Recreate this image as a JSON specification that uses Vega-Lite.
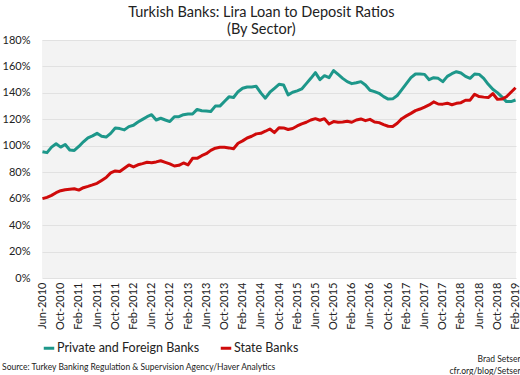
{
  "$schema": "https://vega.github.io/schema/vega-lite/v6.json",
  "background": "white",
  "padding": {"left": 2, "right": 5, "top": 4, "bottom": 2},
  "title": {
    "text": ["Turkish Banks: Lira Loan to Deposit Ratios", "(By Sector)"],
    "font": "Lato", "fontSize": 14.5, "fontWeight": "normal", "color": "#222222",
    "anchor": "middle", "lineHeight": 17, "offset": -3
  },
  "config": {
    "view": {"stroke": null, "fill": "#f3f3f3"},
    "font": "Lato",
    "axis": {"labelFont": "Lato", "labelColor": "#222222", "labelFontSize": 11, "domain": false, "ticks": false, "title": null}
  },
  "resolve": {"scale": {"color": "independent"}, "legend": {"color": "independent"}},
  "vconcat": [
    {
      "title": {
        "text": "Source: Turkey Banking Regulation & Supervision Agency/Haver Analytics",
        "orient": "bottom", "anchor": "start", "font": "Lato", "fontSize": 8.5, "fontWeight": "normal",
        "color": "#222222", "offset": -13
      },
      "resolve": {"scale": {"color": "independent"}, "legend": {"color": "independent"}},
      "vconcat": [
        {
          "title": {
            "text": ["Brad Setser", "cfr.org/blog/Setser"],
            "orient": "bottom", "anchor": "end", "font": "Lato", "fontSize": 8.5, "fontWeight": "normal",
            "color": "#222222", "lineHeight": 12, "offset": 0
          },
          "width": 474,
          "height": 238,
          "data": {"values": [
            {"m": "Jun-2010", "Private and Foreign Banks": 95.5, "State Banks": 60},
            {"m": "Jul-2010", "Private and Foreign Banks": 94.8, "State Banks": 61},
            {"m": "Aug-2010", "Private and Foreign Banks": 99, "State Banks": 62.5},
            {"m": "Sep-2010", "Private and Foreign Banks": 101.5, "State Banks": 64.5},
            {"m": "Oct-2010", "Private and Foreign Banks": 99, "State Banks": 66},
            {"m": "Nov-2010", "Private and Foreign Banks": 101, "State Banks": 66.8},
            {"m": "Dec-2010", "Private and Foreign Banks": 96.8, "State Banks": 67.2},
            {"m": "Jan-2011", "Private and Foreign Banks": 96.5, "State Banks": 67.5},
            {"m": "Feb-2011", "Private and Foreign Banks": 99.5, "State Banks": 66.5},
            {"m": "Mar-2011", "Private and Foreign Banks": 103, "State Banks": 68.3},
            {"m": "Apr-2011", "Private and Foreign Banks": 106, "State Banks": 69.3},
            {"m": "May-2011", "Private and Foreign Banks": 107.5, "State Banks": 70.4},
            {"m": "Jun-2011", "Private and Foreign Banks": 109.4, "State Banks": 71.6},
            {"m": "Jul-2011", "Private and Foreign Banks": 107.2, "State Banks": 73.8},
            {"m": "Aug-2011", "Private and Foreign Banks": 106.6, "State Banks": 76},
            {"m": "Sep-2011", "Private and Foreign Banks": 109.4, "State Banks": 79.5},
            {"m": "Oct-2011", "Private and Foreign Banks": 113.5, "State Banks": 81},
            {"m": "Nov-2011", "Private and Foreign Banks": 113, "State Banks": 80.5},
            {"m": "Dec-2011", "Private and Foreign Banks": 112, "State Banks": 83},
            {"m": "Jan-2012", "Private and Foreign Banks": 114.5, "State Banks": 85.5},
            {"m": "Feb-2012", "Private and Foreign Banks": 115.5, "State Banks": 84},
            {"m": "Mar-2012", "Private and Foreign Banks": 118, "State Banks": 85.6},
            {"m": "Apr-2012", "Private and Foreign Banks": 120, "State Banks": 86.5},
            {"m": "May-2012", "Private and Foreign Banks": 122, "State Banks": 87.5},
            {"m": "Jun-2012", "Private and Foreign Banks": 123.5, "State Banks": 87.2},
            {"m": "Jul-2012", "Private and Foreign Banks": 119.5, "State Banks": 87.8},
            {"m": "Aug-2012", "Private and Foreign Banks": 120.8, "State Banks": 88.7},
            {"m": "Sep-2012", "Private and Foreign Banks": 119.5, "State Banks": 87.5},
            {"m": "Oct-2012", "Private and Foreign Banks": 118.3, "State Banks": 86.3},
            {"m": "Nov-2012", "Private and Foreign Banks": 122, "State Banks": 84.7},
            {"m": "Dec-2012", "Private and Foreign Banks": 122, "State Banks": 85.2},
            {"m": "Jan-2013", "Private and Foreign Banks": 123.5, "State Banks": 87},
            {"m": "Feb-2013", "Private and Foreign Banks": 124, "State Banks": 85.5},
            {"m": "Mar-2013", "Private and Foreign Banks": 124, "State Banks": 90.5},
            {"m": "Apr-2013", "Private and Foreign Banks": 127.5, "State Banks": 90.5},
            {"m": "May-2013", "Private and Foreign Banks": 126.5, "State Banks": 92.5},
            {"m": "Jun-2013", "Private and Foreign Banks": 126.3, "State Banks": 94},
            {"m": "Jul-2013", "Private and Foreign Banks": 126, "State Banks": 96.5},
            {"m": "Aug-2013", "Private and Foreign Banks": 130, "State Banks": 98.2},
            {"m": "Sep-2013", "Private and Foreign Banks": 130, "State Banks": 98.9},
            {"m": "Oct-2013", "Private and Foreign Banks": 133.5, "State Banks": 98.9},
            {"m": "Nov-2013", "Private and Foreign Banks": 137, "State Banks": 98.4},
            {"m": "Dec-2013", "Private and Foreign Banks": 136.5, "State Banks": 97.8},
            {"m": "Jan-2014", "Private and Foreign Banks": 140.9, "State Banks": 101.9},
            {"m": "Feb-2014", "Private and Foreign Banks": 143.5, "State Banks": 103.7},
            {"m": "Mar-2014", "Private and Foreign Banks": 144.5, "State Banks": 105.9},
            {"m": "Apr-2014", "Private and Foreign Banks": 144.5, "State Banks": 107.2},
            {"m": "May-2014", "Private and Foreign Banks": 145, "State Banks": 109},
            {"m": "Jun-2014", "Private and Foreign Banks": 140, "State Banks": 109.4},
            {"m": "Jul-2014", "Private and Foreign Banks": 136, "State Banks": 111},
            {"m": "Aug-2014", "Private and Foreign Banks": 140.5, "State Banks": 112.7},
            {"m": "Sep-2014", "Private and Foreign Banks": 143.5, "State Banks": 110},
            {"m": "Oct-2014", "Private and Foreign Banks": 146.5, "State Banks": 113.7},
            {"m": "Nov-2014", "Private and Foreign Banks": 146, "State Banks": 113.5},
            {"m": "Dec-2014", "Private and Foreign Banks": 138.5, "State Banks": 112.3},
            {"m": "Jan-2015", "Private and Foreign Banks": 140.5, "State Banks": 113.1},
            {"m": "Feb-2015", "Private and Foreign Banks": 141.5, "State Banks": 115},
            {"m": "Mar-2015", "Private and Foreign Banks": 143, "State Banks": 116.6},
            {"m": "Apr-2015", "Private and Foreign Banks": 147, "State Banks": 117.8},
            {"m": "May-2015", "Private and Foreign Banks": 151, "State Banks": 119.5},
            {"m": "Jun-2015", "Private and Foreign Banks": 155.3, "State Banks": 120.5},
            {"m": "Jul-2015", "Private and Foreign Banks": 150, "State Banks": 119.3},
            {"m": "Aug-2015", "Private and Foreign Banks": 153, "State Banks": 120.5},
            {"m": "Sep-2015", "Private and Foreign Banks": 151.5, "State Banks": 116.5},
            {"m": "Oct-2015", "Private and Foreign Banks": 156.9, "State Banks": 118.3},
            {"m": "Nov-2015", "Private and Foreign Banks": 154, "State Banks": 117.8},
            {"m": "Dec-2015", "Private and Foreign Banks": 151, "State Banks": 118},
            {"m": "Jan-2016", "Private and Foreign Banks": 148.5, "State Banks": 118.5},
            {"m": "Feb-2016", "Private and Foreign Banks": 147, "State Banks": 117.8},
            {"m": "Mar-2016", "Private and Foreign Banks": 147.7, "State Banks": 119.5},
            {"m": "Apr-2016", "Private and Foreign Banks": 148.5, "State Banks": 120.3},
            {"m": "May-2016", "Private and Foreign Banks": 146, "State Banks": 119},
            {"m": "Jun-2016", "Private and Foreign Banks": 142, "State Banks": 120},
            {"m": "Jul-2016", "Private and Foreign Banks": 141, "State Banks": 118},
            {"m": "Aug-2016", "Private and Foreign Banks": 139.7, "State Banks": 117.5},
            {"m": "Sep-2016", "Private and Foreign Banks": 137.2, "State Banks": 116},
            {"m": "Oct-2016", "Private and Foreign Banks": 135.3, "State Banks": 114.8},
            {"m": "Nov-2016", "Private and Foreign Banks": 135.5, "State Banks": 114.6},
            {"m": "Dec-2016", "Private and Foreign Banks": 138, "State Banks": 117},
            {"m": "Jan-2017", "Private and Foreign Banks": 142.5, "State Banks": 120.5},
            {"m": "Feb-2017", "Private and Foreign Banks": 147, "State Banks": 122.6},
            {"m": "Mar-2017", "Private and Foreign Banks": 151.5, "State Banks": 124.5},
            {"m": "Apr-2017", "Private and Foreign Banks": 154.3, "State Banks": 126.6},
            {"m": "May-2017", "Private and Foreign Banks": 154.3, "State Banks": 127.8},
            {"m": "Jun-2017", "Private and Foreign Banks": 154, "State Banks": 129.3},
            {"m": "Jul-2017", "Private and Foreign Banks": 150, "State Banks": 130.9},
            {"m": "Aug-2017", "Private and Foreign Banks": 151.5, "State Banks": 133.2},
            {"m": "Sep-2017", "Private and Foreign Banks": 151, "State Banks": 131.6},
            {"m": "Oct-2017", "Private and Foreign Banks": 148.5, "State Banks": 131.5},
            {"m": "Nov-2017", "Private and Foreign Banks": 152.5, "State Banks": 132.2},
            {"m": "Dec-2017", "Private and Foreign Banks": 154.5, "State Banks": 131},
            {"m": "Jan-2018", "Private and Foreign Banks": 156, "State Banks": 132.1},
            {"m": "Feb-2018", "Private and Foreign Banks": 155, "State Banks": 132.6},
            {"m": "Mar-2018", "Private and Foreign Banks": 152.5, "State Banks": 134.4},
            {"m": "Apr-2018", "Private and Foreign Banks": 151, "State Banks": 134.5},
            {"m": "May-2018", "Private and Foreign Banks": 154.3, "State Banks": 139},
            {"m": "Jun-2018", "Private and Foreign Banks": 154, "State Banks": 137.2},
            {"m": "Jul-2018", "Private and Foreign Banks": 151, "State Banks": 136.8},
            {"m": "Aug-2018", "Private and Foreign Banks": 146.5, "State Banks": 136.5},
            {"m": "Sep-2018", "Private and Foreign Banks": 142.7, "State Banks": 139.5},
            {"m": "Oct-2018", "Private and Foreign Banks": 140.2, "State Banks": 135.2},
            {"m": "Nov-2018", "Private and Foreign Banks": 137, "State Banks": 135.3},
            {"m": "Dec-2018", "Private and Foreign Banks": 133.4, "State Banks": 137.1},
            {"m": "Jan-2019", "Private and Foreign Banks": 133.4, "State Banks": 140.5},
            {"m": "Feb-2019", "Private and Foreign Banks": 134.6, "State Banks": 143.9}
          ]},
          "transform": [
            {"fold": ["Private and Foreign Banks", "State Banks"], "as": ["series", "value"]}
          ],
          "mark": {"type": "line", "strokeWidth": 3, "strokeJoin": "round"},
          "encoding": {
            "x": {
              "field": "m", "type": "ordinal", "sort": null,
              "scale": {"type": "point", "padding": 0.1},
              "axis": {
                "values": ["Jun-2010", "Oct-2010", "Feb-2011", "Jun-2011", "Oct-2011", "Feb-2012", "Jun-2012", "Oct-2012", "Feb-2013", "Jun-2013", "Oct-2013", "Feb-2014", "Jun-2014", "Oct-2014", "Feb-2015", "Jun-2015", "Oct-2015", "Feb-2016", "Jun-2016", "Oct-2016", "Feb-2017", "Jun-2017", "Oct-2017", "Feb-2018", "Jun-2018", "Oct-2018", "Feb-2019"],
                "labelAngle": 270, "labelPadding": 4, "grid": false
              }
            },
            "y": {
              "field": "value", "type": "quantitative",
              "scale": {"domain": [0, 180], "nice": false},
              "axis": {
                "values": [0, 20, 40, 60, 80, 100, 120, 140, 160, 180],
                "labelExpr": "datum.value + '%'", "labelPadding": 12,
                "grid": true, "gridColor": "#e1e1e1", "gridWidth": 1
              }
            },
            "color": {
              "field": "series", "type": "nominal",
              "scale": {"domain": ["Private and Foreign Banks", "State Banks"], "range": ["#1d978a", "#cf0a0a"]},
              "legend": {
                "title": null, "orient": "bottom", "direction": "horizontal",
                "symbolType": "stroke", "symbolStrokeWidth": 3, "symbolSize": 110,
                "labelFont": "Lato", "labelFontSize": 12.5, "labelColor": "#222222",
                "columnPadding": 14, "labelOffset": 1, "offset": 11
              }
            }
          }
        }
      ]
    }
  ]
}
